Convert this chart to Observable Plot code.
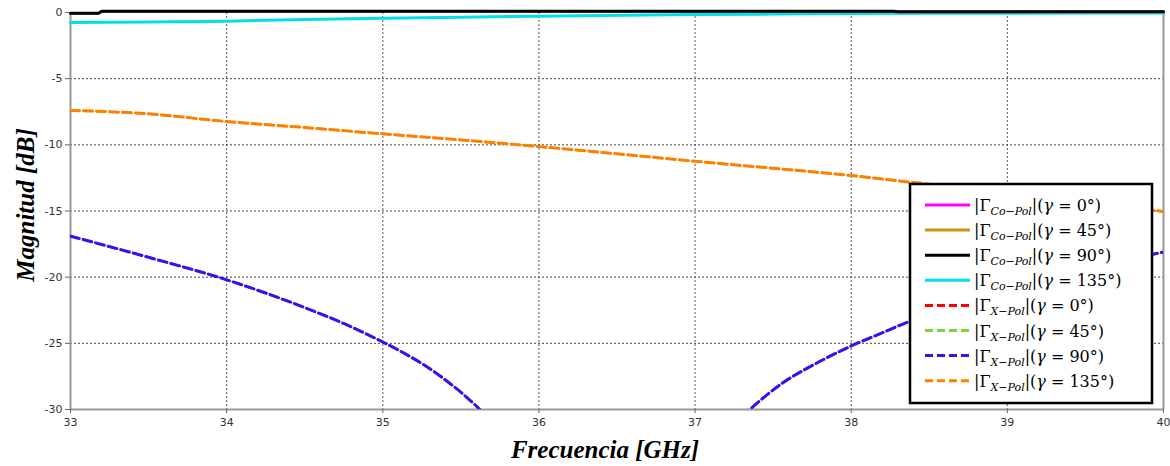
<!DOCTYPE html>
<html>
<head>
<meta charset="utf-8">
<script src="https://cdn.jsdelivr.net/npm/d3@7"></script>
<script src="https://cdn.jsdelivr.net/npm/@observablehq/plot@0.6"></script>
<style>
  html, body { margin: 0; padding: 0; background: #fff; }
  #chart svg { display: block; }
  .axtitle { font-family: "Liberation Serif", "DejaVu Serif", serif; font-weight: bold; font-style: italic; }
</style>
</head>
<body>
<div id="chart"></div>
<script>
// ---- data ----
const xTicks = [33, 34, 35, 36, 37, 38, 39, 40];
const yTicks = [0, -5, -10, -15, -20, -25, -30];

// Co-Pol (solid)
const freqCoFlat = [33, 33.18, 33.2, 38.27, 38.3, 40];
const coPol0   = [-0.05, -0.05, 0.1, 0.1, 0.05, 0.05];
const coPol45  = [-0.05, -0.05, 0.1, 0.1, 0.05, 0.05];
const coPol90  = [-0.05, -0.05, 0.1, 0.1, 0.05, 0.05];
const freqCo135 = [33, 33.5, 34, 34.5, 35, 35.5, 36, 36.4, 37, 37.5, 38, 38.5, 39, 39.5, 40];
const coPol135  = [-0.76, -0.72, -0.66, -0.52, -0.44, -0.36, -0.28, -0.22, -0.16, -0.12, -0.08, -0.06, -0.05, -0.04, -0.04];

// X-Pol (dashed)
const freqX90 = [33, 33.5, 34, 34.5, 34.75, 35, 35.13, 35.28, 35.41, 35.53, 35.63, 35.8, 36.2, 36.6, 37.0, 37.35, 37.56, 37.77, 38, 38.18, 38.35, 38.7, 39, 39.5, 40];
const xPol90  = [-16.9, -18.5, -20.2, -22.3, -23.5, -24.9, -25.7, -26.75, -27.85, -29.0, -30.1, -32.5, -37, -38, -34, -30.0, -28.0, -26.55, -25.2, -24.3, -23.45, -22.0, -20.9, -19.4, -18.1];
const xPol0   = [-16.9, -18.5, -20.2, -22.3, -23.5, -24.9, -25.7, -26.75, -27.85, -29.0, -30.1, -32.5, -37, -38, -34, -30.0, -28.0, -26.55, -25.2, -24.3, -23.45, -22.0, -20.9, -19.4, -18.1];
const freqX135 = [33, 33.5, 34, 34.5, 35, 35.5, 36, 36.5, 37, 37.5, 38, 38.4, 39, 39.5, 40];
const xPol135  = [-7.4, -7.66, -8.24, -8.69, -9.17, -9.63, -10.13, -10.68, -11.24, -11.77, -12.32, -12.85, -13.55, -14.25, -15.05];
const xPol45   = [-7.4, -7.66, -8.24, -8.69, -9.17, -9.63, -10.13, -10.68, -11.24, -11.77, -12.32, -12.85, -13.55, -14.25, -15.05];

const seriesPol   = ["Co\u2212Pol", "Co\u2212Pol", "Co\u2212Pol", "Co\u2212Pol", "X\u2212Pol", "X\u2212Pol", "X\u2212Pol", "X\u2212Pol"];
const seriesGamma = ["0°", "45°", "90°", "135°", "0°", "45°", "90°", "135°"];
const seriesColors = ["#ff00ff", "#c8960c", "#000000", "#00e0e8", "#ff0000", "#80d040", "#3a10f0", "#ff8000"];
const seriesDashed = [false, false, false, false, true, true, true, true];
const seriesWidth = [2.5, 2.5, 3, 3, 2.2, 2.2, 3, 3];

// ---- build rows ----
const rows = (fs, vs) => fs.map((f, i) => ({f, v: vs[i]}));
const S = [
  rows(freqCoFlat, coPol0), rows(freqCoFlat, coPol45), rows(freqCoFlat, coPol90), rows(freqCo135, coPol135),
  rows(freqX90, xPol0), rows(freqX135, xPol45), rows(freqX90, xPol90), rows(freqX135, xPol135)
];
const drawOrder = [3, 0, 1, 2, 4, 6, 5, 7];
const DASH = "9,4";

const lineMarks = drawOrder.map(i => Plot.line(S[i], {
  x: "f", y: "v", stroke: seriesColors[i], strokeWidth: seriesWidth[i],
  strokeDasharray: seriesDashed[i] ? DASH : null,
  curve: seriesDashed[i] ? "monotone-x" : "linear", clip: seriesDashed[i] ? true : false
}));

const W = 1170, H = 466;
const chart = Plot.plot({
  width: W, height: H,
  marginLeft: 70, marginRight: 7, marginTop: 12, marginBottom: 57,
  style: { fontFamily: "Tahoma, 'DejaVu Sans', sans-serif", fontSize: "11px", color: "#333", background: "#fff" },
  x: { domain: [33, 40] },
  y: { domain: [-30, 0] },
  marks: [
    Plot.gridX(xTicks.slice(1, -1), { stroke: "#555", strokeOpacity: 1, strokeDasharray: "2,2", strokeWidth: 1 }),
    Plot.gridY(yTicks.slice(1, -1), { stroke: "#444", strokeOpacity: 1, strokeDasharray: "2,2", strokeWidth: 1 }),
    Plot.ruleX([33, 40], { stroke: "#999", strokeWidth: 2 }),
    Plot.ruleY([-30], { stroke: "#999", strokeWidth: 2 }),
    Plot.axisY(yTicks, { tickSize: 5, tickPadding: 3, tickFormat: d => String(d), stroke: "#666", label: null }),
    Plot.axisX(xTicks, { tickSize: 4, tickPadding: 5, tickFormat: d => String(d), stroke: "#666", label: null }),
    ...lineMarks
  ]
});
document.getElementById("chart").appendChild(chart);

// ---- axis titles and legend (decorations added on the SVG) ----
const svg = d3.select(chart);
svg.append("text").attr("class", "axtitle")
  .attr("x", 605).attr("y", 458).attr("text-anchor", "middle")
  .attr("font-size", 25).attr("fill", "#000").text("Frecuencia [GHz]");
svg.append("text").attr("class", "axtitle")
  .attr("transform", "translate(34,205) rotate(-90)").attr("text-anchor", "middle")
  .attr("font-size", 25).attr("fill", "#000").text("Magnitud [dB]");

const lg = svg.append("g").attr("text-anchor", "start");
lg.append("rect").attr("x", 910).attr("y", 184).attr("width", 242).attr("height", 219)
  .attr("fill", "#fff").attr("stroke", "#000").attr("stroke-width", 2.5);
for (let i = 0; i < 8; i++) {
  const y = 205 + i * 25.1;
  lg.append("line").attr("x1", 925).attr("x2", 970).attr("y1", y).attr("y2", y)
    .attr("stroke", seriesColors[i]).attr("stroke-width", 3)
    .attr("stroke-dasharray", seriesDashed[i] ? "8,4" : null);
  const t = lg.append("text").attr("x", 974).attr("y", y + 6).attr("text-anchor", "start")
    .attr("font-family", "'DejaVu Serif', 'Liberation Serif', serif").attr("font-size", 16).attr("fill", "#000");
  t.append("tspan").text("|Γ");
  t.append("tspan").attr("font-style", "italic").attr("font-size", 11).attr("dy", 4).text(seriesPol[i]);
  t.append("tspan").attr("dy", -4).text("|(");
  t.append("tspan").attr("font-style", "italic").text("γ");
  t.append("tspan").text(" = " + seriesGamma[i] + ")");
}
</script>
</body>
</html>
